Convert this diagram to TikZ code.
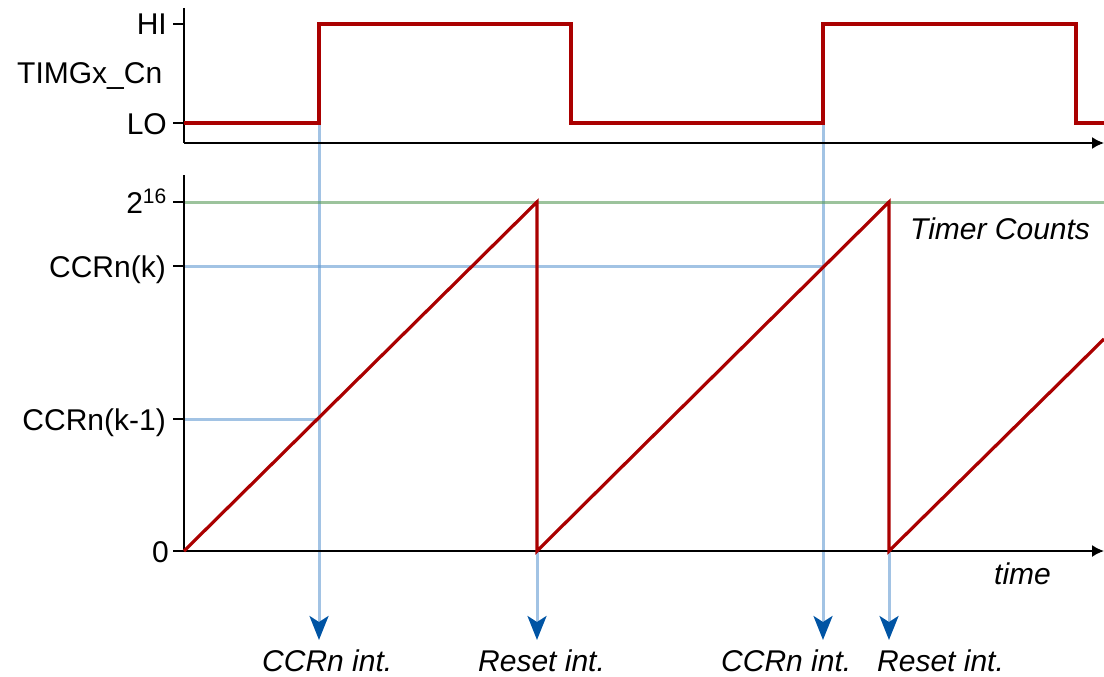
\documentclass[tikz,border=0pt]{standalone}
\usepackage{fontspec}
\setmainfont{Liberation Sans}
\usetikzlibrary{arrows.meta}
\definecolor{sigred}{RGB}{170,0,0}
\definecolor{guideblue}{RGB}{100,155,210}
\definecolor{guidesolid}{RGB}{162,195,228}
\definecolor{tipblue}{RGB}{0,84,164}
\definecolor{maxgreen}{RGB}{90,155,90}
\begin{document}
\begin{tikzpicture}[x=1pt,y=-1pt,
  axis/.style={line width=1.6pt, black},
  axisarrow/.style={axis, -{Latex[length=12pt,width=12pt]}},
  tickmark/.style={line width=2.4pt, black},
  ticklabel/.style={anchor=base east, font=\fontsize{30}{33}\selectfont, inner sep=0pt},
  signal/.style={sigred, line width=3.2pt, line join=miter},
  guide/.style={guideblue, line width=3pt, opacity=0.6},
  maxline/.style={maxgreen, line width=3pt, opacity=0.6},
  intarrow/.style={guidesolid, line width=3pt, -{Stealth[length=24pt,width=19pt,inset=6pt,color=tipblue]}},
  ilabel/.style={anchor=base west, font=\fontsize{30}{33}\selectfont\itshape, inner sep=0pt}
]
\useasboundingbox (0,0) rectangle (1104,677);

% ---------- upper panel: TIMGx_Cn input ----------
\coordinate (uTop) at (184,8);
\coordinate (uO)   at (184,143);
\coordinate (uEnd) at (1104,143);
\coordinate (hiT)  at (173,24);
\coordinate (hiA)  at (184,24);
\coordinate (loT)  at (173,123);
\coordinate (loA)  at (184,123);

% signal corners
\coordinate (s0) at (184,123);
\coordinate (s1) at (319,123);
\coordinate (s2) at (319,24);
\coordinate (s3) at (571,24);
\coordinate (s4) at (571,123);
\coordinate (s5) at (823,123);
\coordinate (s6) at (823,24);
\coordinate (s7) at (1076,24);
\coordinate (s8) at (1076,123);
\coordinate (s9) at (1104,123);

% ---------- lower panel: timer counter ----------
\coordinate (lTop) at (184,175);
\coordinate (lO)   at (184,551);
\coordinate (lEnd) at (1104,551);
\coordinate (maxA) at (184,202);
\coordinate (maxE) at (1104,202);
\coordinate (maxT) at (173,202);
\coordinate (kA)   at (184,266);
\coordinate (kT)   at (173,266);
\coordinate (kX)   at (823,266);
\coordinate (kmA)  at (184,419);
\coordinate (kmT)  at (173,419);
\coordinate (kmX)  at (319,419);
\coordinate (zT)   at (173,551);

% sawtooth corners
\coordinate (r0) at (184,551);
\coordinate (r1) at (537,202);
\coordinate (r2) at (537,551);
\coordinate (r3) at (889,202);
\coordinate (r4) at (889,551);
\coordinate (r5) at (1104,339);

% interrupt arrow ends
\coordinate (c1a) at (319,640);
\coordinate (ra)  at (537,640);
\coordinate (c2a) at (823,640);
\coordinate (rb)  at (889,640);

% interrupt arrows, then the level lines over them
\draw[intarrow] (s1) -- (c1a);
\draw[intarrow] (r2) -- (ra);
\draw[intarrow] (s5) -- (c2a);
\draw[intarrow] (r4) -- (rb);
\draw[maxline] (maxA) -- (maxE);
\draw[guide] (kA) -- (kX);
\draw[guide] (kmA) -- (kmX);

% axes
\draw[axis] (uTop) -- (uO);
\draw[axisarrow] (uO) -- (uEnd);
\draw[axis] (lTop) -- (lO);
\draw[axisarrow] (lO) -- (lEnd);

% tick marks
\draw[tickmark] (hiT) -- (hiA);
\draw[tickmark] (loT) -- (loA);
\draw[tickmark] (maxT) -- (maxA);
\draw[tickmark] (kT) -- (kA);
\draw[tickmark] (kmT) -- (kmA);
\draw[tickmark] (zT) -- (lO);

% waveforms
\draw[signal] (s0) -- (s1) -- (s2) -- (s3) -- (s4) -- (s5) -- (s6) -- (s7) -- (s8) -- (s9);
\draw[signal] (r0) -- (r1) -- (r2) -- (r3) -- (r4) -- (r5);

% axis labels
\node[ticklabel] (lblHI)  at (167,35)  {HI};
\node[ticklabel] (lblLO)  at (167,134) {LO};
\node[anchor=base west, font=\fontsize{30}{33}\selectfont, inner sep=0pt] (lblSig) at (17,84) {TIMGx\_Cn};
\node[ticklabel] (lblMax) at (167,213) {2\textsuperscript{16}};
\node[ticklabel] (lblK)   at (166,277) {CCRn(k)};
\node[ticklabel] (lblKm)  at (166,430) {CCRn(k-1)};
\node[ticklabel] (lblZ)   at (169,562) {0};

% text labels
\node[ilabel] (lblCount) at (910,239) {Timer Counts};
\node[ilabel] (lblTime)  at (994,584) {time};
\node[ilabel] (lblC1)    at (262,671) {CCRn int.};
\node[ilabel] (lblR1)    at (478,671) {Reset int.};
\node[ilabel] (lblC2)    at (721,671) {CCRn int.};
\node[ilabel] (lblR2)    at (877,671) {Reset int.};
\end{tikzpicture}
\end{document}
